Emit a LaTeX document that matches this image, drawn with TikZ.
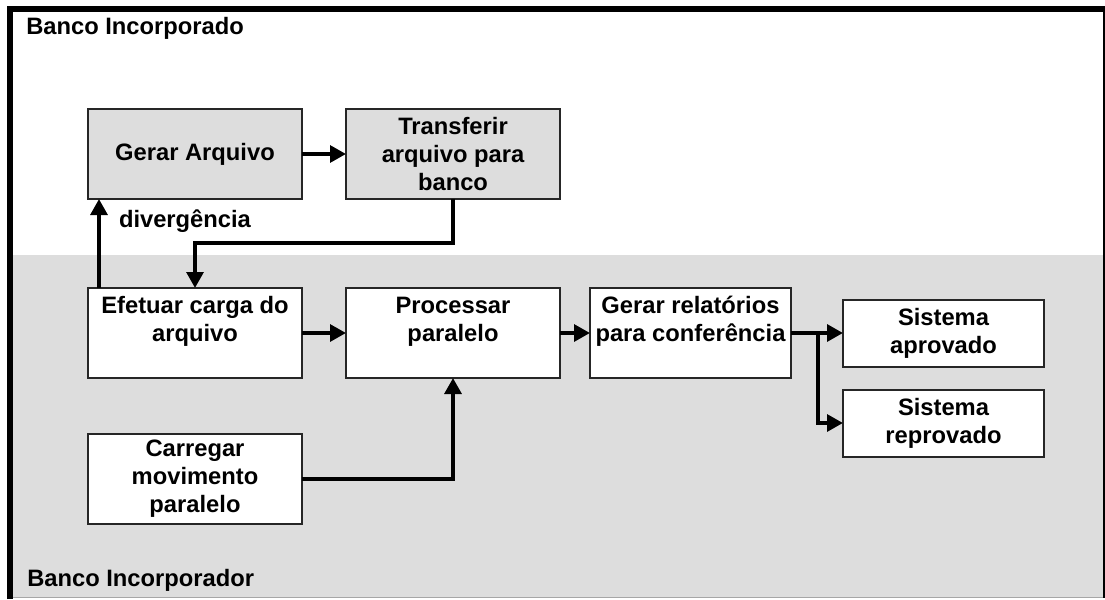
\documentclass[tikz,border=0pt]{standalone}
\usepackage{fontspec}
\setmainfont{Liberation Sans}
\usetikzlibrary{arrows.meta, positioning}
\definecolor{lanegray}{RGB}{221,221,221}
\tikzset{
  stepbox/.style={rectangle, draw=black!85, line width=1.5pt, outer sep=0pt, align=center,
    minimum width=160.5pt, minimum height=67.5pt, inner sep=2pt,
    font=\fontsize{17.8}{21}\selectfont\bfseries},
  origbox/.style={stepbox, fill=lanegray},
  destbox/.style={stepbox, fill=white},
  narrowbox/.style={destbox, minimum width=150.75pt},
  resultbox/.style={narrowbox, minimum height=50.25pt},
  arr/.style={-{Triangle[length=12pt, width=12.5pt]}, line width=3pt, draw=black},
  lanetitle/.style={anchor=base west, inner sep=0pt, font=\fontsize{17.8}{21}\selectfont\bfseries},
}

\begin{document}
\begin{tikzpicture}[x=0.75pt, y=-0.75pt]
  \useasboundingbox (0,0) rectangle (1105,599);

  % Lanes
  \fill[white] (10,9) rectangle (1104,255);
  \fill[lanegray] (10,255) rectangle (1104,597);
  \draw[gray!70, line width=1pt] (10,597.5) -- (1104,597.5);
  \draw[black, line width=1pt] (1104,9) -- (1104,598);
  \draw[black, line width=4.5pt] (10,599) -- (10,9) -- (1105,9);
  \node[lanetitle] (incorporado) at (26,35) {Banco Incorporado};
  \node[lanetitle] (incorporador) at (27,586) {Banco Incorporador};

  % Banco Incorporado
  \node[origbox] (gerar) at (195,154) {Gerar Arquivo};
  \node[origbox, right=33pt of gerar] (transferir) {Transferir\\arquivo para\\banco};

  % Banco Incorporador
  \node[destbox, below=66.75pt of gerar] (efetuar) {Efetuar carga do\\arquivo\\\mbox{}};
  \node[destbox, right=33pt of efetuar] (processar) {Processar\\paralelo\\\mbox{}};
  \node[narrowbox, right=22.5pt of processar] (relatorios) {Gerar relatórios\\para conferência\\\mbox{}};
  \node[resultbox, right=39pt of relatorios] (aprovado) {Sistema\\aprovado};
  \node[resultbox, below=17.25pt of aprovado] (reprovado) {Sistema\\reprovado};
  \node[destbox, below=42pt of efetuar] (carregar) {Carregar\\movimento\\paralelo};

  % Arrows
  \draw[arr] (gerar) -- (transferir);
  \draw[arr] (transferir.south) -- ++(0,44) -| (efetuar.north);
  \draw[arr] ([xshift=8.25pt]efetuar.north west) --
    node[pos=0.75, right=13.5pt, inner sep=0pt, font=\fontsize{17.8}{21}\selectfont\bfseries] (divergencia) {divergência}
    ([xshift=8.25pt]gerar.south west);
  \draw[arr] (efetuar) -- (processar);
  \draw[arr] (carregar) -| (processar);
  \draw[arr] (processar) -- (relatorios);
  \draw[arr] (relatorios) -- (aprovado);
  \coordinate[right=20.25pt of relatorios] (fork);
  \draw[arr] (fork) |- (reprovado);
\end{tikzpicture}
\end{document}
